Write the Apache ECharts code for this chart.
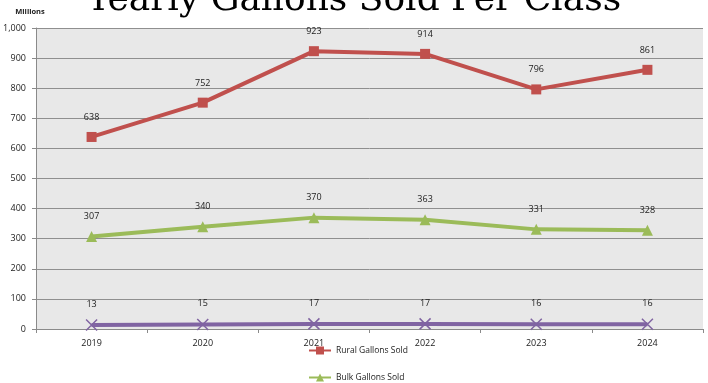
<!DOCTYPE html>
<html>
<head>
<meta charset="utf-8">
<script src="https://cdn.jsdelivr.net/npm/echarts@6/dist/echarts.min.js"></script>
<style>
  html, body { margin: 0; padding: 0; background: #fff; }
  #chart { width: 708px; height: 383px; }
</style>
</head>
<body>
<div id="chart"></div>
<script>
// 数据
const years = ['2019', '2020', '2021', '2022', '2023', '2024']
const ruralSold = [638, 752, 923, 914, 796, 861]
const bulkSold = [307, 340, 370, 363, 331, 328]
const otherSold = [13, 15, 17, 17, 16, 16]

const labelStyle = {
  show: true,
  position: 'top',
  distance: 10,
  color: '#222',
  fontSize: 9,
  fontFamily: 'Open Sans',
}

const chart = echarts.init(document.getElementById('chart'))

chart.setOption({
  animation: false,
  backgroundColor: '#fff',
  title: {
    text: 'Yearly Gallons Sold Per Class',
    left: 'center',
    top: -17,
    padding: 0,
    textStyle: {
      fontFamily: 'DejaVu Serif',
      fontSize: 36,
      fontWeight: 'normal',
      color: '#000',
    },
  },
  legend: {
    orient: 'vertical',
    left: 303,
    top: 341,
    height: 120,
    itemWidth: 22,
    itemHeight: 10,
    itemGap: 18,
    textStyle: { fontSize: 8.5, color: '#222', fontFamily: 'Open Sans' },
    data: ['Rural Gallons Sold', 'Bulk Gallons Sold', 'Other Gallons Sold'],
  },
  grid: {
    left: 36,
    right: 5,
    top: 28,
    bottom: 54,
    show: true,
    backgroundColor: '#e8e8e8',
    borderWidth: 0,
  },
  xAxis: {
    type: 'category',
    data: years,
    boundaryGap: true,
    axisLine: { lineStyle: { color: '#8a8a8a', width: 1 } },
    axisTick: { show: true, length: 4, lineStyle: { color: '#8a8a8a' } },
    axisLabel: { color: '#222', fontSize: 9, margin: 10, fontFamily: 'Open Sans' },
  },
  yAxis: {
    type: 'value',
    min: 0,
    max: 1000,
    interval: 100,
    name: 'Millions',
    nameLocation: 'end',
    nameGap: 12,
    nameTextStyle: { color: '#222', fontSize: 7.5, fontWeight: 'bold', align: 'center', padding: [0, 0, 0, -12], fontFamily: 'Open Sans' },
    axisLine: { show: true, lineStyle: { color: '#8a8a8a' } },
    axisTick: { show: true, length: 4, lineStyle: { color: '#8a8a8a' } },
    axisLabel: { color: '#222', fontSize: 9, margin: 10, fontFamily: 'Open Sans' },
    splitLine: { lineStyle: { color: '#8f8f8f', width: 1 } },
  },
  series: [
    {
      name: 'Rural Gallons Sold',
      type: 'line',
      data: ruralSold,
      symbol: 'rect',
      symbolSize: 10,
      lineStyle: { color: '#c0504d', width: 4 },
      itemStyle: { color: '#c0504d' },
      label: labelStyle,
    },
    {
      name: 'Bulk Gallons Sold',
      type: 'line',
      data: bulkSold,
      symbol: 'triangle',
      symbolSize: 11,
      lineStyle: { color: '#9bbb59', width: 4 },
      itemStyle: { color: '#9bbb59' },
      label: labelStyle,
    },
    {
      name: 'Other Gallons Sold',
      type: 'line',
      data: otherSold,
      symbol: 'path://M0,0L10,10M10,0L0,10',
      symbolSize: 11,
      lineStyle: { color: '#8064a2', width: 4 },
      itemStyle: { color: '#8064a2', borderColor: '#8064a2', borderWidth: 1.5 },
      label: labelStyle,
    },
  ],
})
</script>
</body>
</html>
